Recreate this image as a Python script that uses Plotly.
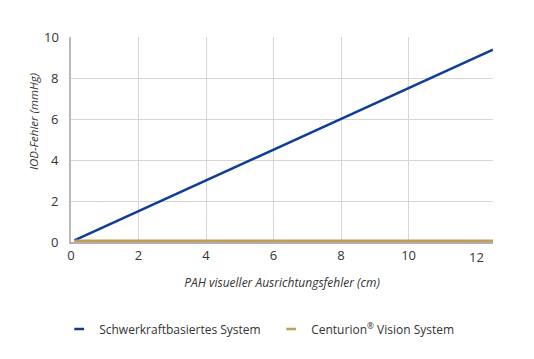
import plotly.graph_objects as go

# Data
x_schwer = [0.1, 12.5]
y_schwer = [0.08, 9.38]
x_centurion = [0.1, 12.5]
y_centurion = [0.05, 0.05]
series_names = ["Schwerkraftbasiertes System", "Centurion<sup>®</sup> Vision System"]
x_ticks = [0, 2, 4, 6, 8, 10]
y_ticks = [0, 2, 4, 6, 8]

blue = "#0E3D97"
gold = "#C49C55"

fig = go.Figure()
fig.add_trace(go.Scatter(x=x_schwer, y=y_schwer, mode="lines",
                         line=dict(color=blue, width=2.5), showlegend=False))
fig.add_trace(go.Scatter(x=x_centurion, y=y_centurion, mode="lines",
                         line=dict(color=gold, width=3), showlegend=False))
# legend entries with short dash symbols
fig.add_trace(go.Scatter(x=[None], y=[None], mode="markers", name=series_names[0],
                         marker=dict(symbol="line-ew-open", size=7, color=blue,
                                     line=dict(color=blue, width=2.5))))
fig.add_trace(go.Scatter(x=[None], y=[None], mode="markers", name=series_names[1],
                         marker=dict(symbol="line-ew-open", size=7, color=gold,
                                     line=dict(color=gold, width=2.5))))

font = "Open Sans"
fig.update_layout(
    width=534, height=359,
    margin=dict(l=71, r=41, t=37, b=117, autoexpand=False),
    plot_bgcolor="white", paper_bgcolor="white",
    font=dict(family=font, color="#333333", size=13),
    legend=dict(orientation="h", x=-0.028, y=-0.424,
                xanchor="left", yanchor="middle",
                font=dict(size=12, color="#333333"), entrywidth=167, itemwidth=30),
    annotations=[
        dict(x=12, y=0, xref="x", yref="paper", text="12", showarrow=False,
             yanchor="top", yshift=-4, font=dict(size=13, color="#333333")),
        dict(x=0, y=10, xref="paper", yref="y", text="10", showarrow=False,
             xanchor="right", xshift=-10, font=dict(size=13, color="#333333")),
        dict(x=-0.09, y=0.585, xref="paper", yref="paper", text="<i>IOD-Fehler (mmHg)</i>",
             textangle=-90, showarrow=False, xanchor="center", yanchor="middle",
             font=dict(size=11.5, color="#333333")),
    ],
)
fig.update_xaxes(range=[0, 12.5], tickvals=x_ticks, showgrid=True, gridcolor="#d6d6d6",
                 gridwidth=1, zeroline=False, showline=True, linecolor="#b0b0b0", linewidth=2,
                 ticks="", automargin=False,
                 title=dict(text="<i>PAH visueller Ausrichtungsfehler (cm)</i>",
                            font=dict(size=12, color="#333333"), standoff=16))
fig.update_yaxes(range=[0, 10], tickvals=y_ticks, showgrid=True, gridcolor="#d6d6d6",
                 gridwidth=1, zeroline=False, showline=True, linecolor="#b8b8b8", linewidth=2,
                 ticks="outside", ticklen=8, tickcolor="rgba(0,0,0,0)", automargin=False)

fig.write_html("out.html")
